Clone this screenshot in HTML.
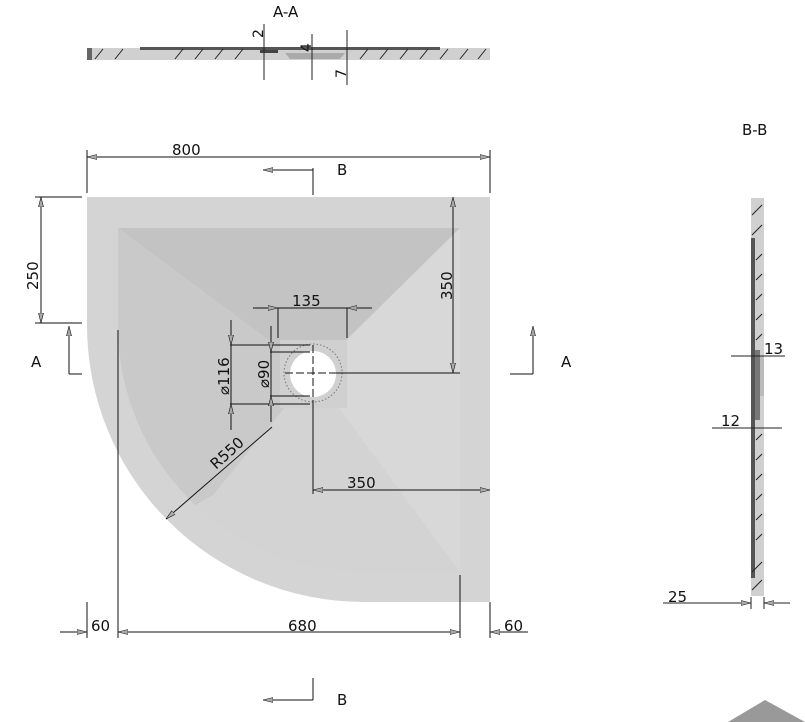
<!DOCTYPE html>
<html><head><meta charset="utf-8"><style>
html,body{margin:0;padding:0;background:#fff;}
svg{display:block;font-family:"DejaVu Sans","Liberation Sans",sans-serif;}
</style></head><body>
<svg width="805" height="722" viewBox="0 0 805 722" xmlns="http://www.w3.org/2000/svg">
<defs>
<marker id="ar" viewBox="0 0 10 6" refX="10" refY="3" markerWidth="10" markerHeight="6" orient="auto-start-reverse" markerUnits="userSpaceOnUse"><path d="M0,0.5 L10,3 L0,5.5 Z" fill="#aaa" stroke="#111" stroke-width="0.6"/></marker>
<clipPath id="inner"><path d="M118,228 H460 V572 H364 A246,246 0 0 1 118,326 Z"/></clipPath>
</defs>
<g font-size="15" fill="#111">
<text x="273" y="17">A-A</text>
<rect x="87" y="48" width="403" height="12" fill="#d0d0d0"/>
<rect x="87" y="48" width="5" height="12" fill="#666"/>
<rect x="140" y="47" width="300" height="3" fill="#555"/>
<rect x="260" y="50" width="18" height="3" fill="#444"/>
<path d="M285,53 H345 L340,59 H290 Z" fill="#aaa"/>
<g stroke="#222" stroke-width="1">
<path d="M95,59 l8,-10 M115,59 l8,-10 M175,59 l8,-10 M195,59 l8,-10 M215,59 l8,-10 M235,59 l8,-10 M360,59 l8,-10 M380,59 l8,-10 M400,59 l8,-10 M420,59 l8,-10 M440,59 l8,-10 M460,59 l8,-10 M478,59 l8,-10"/>
<line x1="264" y1="24" x2="264" y2="80"/><line x1="312" y1="34" x2="312" y2="80"/><line x1="347" y1="30" x2="347" y2="85"/>
</g>
<text transform="translate(263,38) rotate(-90)" font-size="14">2</text>
<text transform="translate(311,52) rotate(-90)" font-size="14">4</text>
<text transform="translate(346,78) rotate(-90)" font-size="14">7</text>

<path d="M87,197 H490 V602 H364 A277,277 0 0 1 87,323 Z" fill="#d4d4d4"/>
<g clip-path="url(#inner)">
<rect x="100" y="220" width="380" height="380" fill="#d3d3d3"/>
<path d="M118,228 L460,228 L313,373 Z" fill="#c3c3c3"/>
<path d="M118,228 L313,373 L213,495 L100,560 L100,228 Z" fill="#c9c9c9"/>
<path d="M460,228 L460,572 L313,373 Z" fill="#d8d8d8"/>
</g>
<rect x="280" y="340" width="67" height="68" fill="#d0d0d0"/>
<circle cx="313" cy="373" r="29" fill="none" stroke="#777" stroke-dasharray="1.5,2"/>
<circle cx="313" cy="374" r="23" fill="#fff"/>

<g stroke="#111" stroke-width="1" fill="none">
<line x1="87" y1="150" x2="87" y2="193"/><line x1="490" y1="150" x2="490" y2="193"/>
<line x1="87" y1="157" x2="490" y2="157" marker-start="url(#ar)" marker-end="url(#ar)"/>
<line x1="313" y1="168" x2="313" y2="195"/><line x1="263" y1="170" x2="313" y2="170" marker-start="url(#ar)"/>
<line x1="313" y1="678" x2="313" y2="700"/><line x1="263" y1="700" x2="313" y2="700" marker-start="url(#ar)"/>
<line x1="69" y1="374" x2="82" y2="374"/><line x1="69" y1="374" x2="69" y2="326" marker-end="url(#ar)"/>
<line x1="510" y1="374" x2="533" y2="374"/><line x1="533" y1="374" x2="533" y2="326" marker-end="url(#ar)"/>
<line x1="35" y1="197" x2="82" y2="197"/><line x1="35" y1="323" x2="82" y2="323"/>
<line x1="41" y1="197" x2="41" y2="323" marker-start="url(#ar)" marker-end="url(#ar)"/>
<line x1="453" y1="197" x2="453" y2="373" marker-start="url(#ar)" marker-end="url(#ar)"/>
<line x1="335" y1="373" x2="460" y2="373"/>
<line x1="278" y1="308" x2="278" y2="338"/><line x1="347" y1="308" x2="347" y2="338"/>
<line x1="253" y1="308" x2="278" y2="308" marker-end="url(#ar)"/><line x1="278" y1="308" x2="347" y2="308"/><line x1="372" y1="308" x2="347" y2="308" marker-end="url(#ar)"/>
<line x1="230" y1="345" x2="310" y2="345"/><line x1="230" y1="404" x2="310" y2="404"/>
<line x1="270" y1="352" x2="310" y2="352"/><line x1="270" y1="396" x2="310" y2="396"/>
<line x1="231" y1="320" x2="231" y2="345" marker-end="url(#ar)"/><line x1="231" y1="345" x2="231" y2="404"/><line x1="231" y1="430" x2="231" y2="404" marker-end="url(#ar)"/>
<line x1="271" y1="326" x2="271" y2="352" marker-end="url(#ar)"/><line x1="271" y1="352" x2="271" y2="396"/><line x1="271" y1="422" x2="271" y2="396" marker-end="url(#ar)"/>
<line x1="313" y1="345" x2="313" y2="400" stroke-dasharray="8,3"/>
<line x1="313" y1="400" x2="313" y2="494"/>
<line x1="285" y1="373" x2="335" y2="373" stroke-dasharray="8,3"/>
<line x1="313" y1="490" x2="490" y2="490" marker-start="url(#ar)" marker-end="url(#ar)"/>
<line x1="272" y1="427" x2="166" y2="519" marker-end="url(#ar)"/>
<line x1="87" y1="602" x2="87" y2="638"/><line x1="118" y1="330" x2="118" y2="638"/>
<line x1="460" y1="575" x2="460" y2="638"/><line x1="490" y1="602" x2="490" y2="638"/>
<line x1="60" y1="632" x2="87" y2="632" marker-end="url(#ar)"/>
<line x1="118" y1="632" x2="460" y2="632" marker-start="url(#ar)" marker-end="url(#ar)"/>
<line x1="528" y1="632" x2="490" y2="632" marker-end="url(#ar)"/>
</g>
<text x="172" y="155">800</text>
<text x="337" y="175">B</text>
<text x="337" y="705">B</text>
<text x="31" y="367">A</text>
<text x="561" y="367">A</text>
<text transform="translate(38,290) rotate(-90)">250</text>
<text transform="translate(452,300) rotate(-90)">350</text>
<text x="292" y="306">135</text>
<text transform="translate(229,395) rotate(-90)">⌀116</text>
<text transform="translate(269,388) rotate(-90)">⌀90</text>
<text x="347" y="488">350</text>
<text transform="translate(216,470) rotate(-42)">R550</text>
<text x="91" y="631">60</text>
<text x="288" y="631">680</text>
<text x="504" y="631">60</text>

<text x="742" y="135">B-B</text>
<rect x="751" y="198" width="13" height="398" fill="#d0d0d0"/>
<rect x="751" y="238" width="4" height="340" fill="#555"/>
<rect x="755" y="350" width="5" height="70" fill="#777"/>
<rect x="760" y="356" width="4" height="40" fill="#bbb"/>
<g stroke="#222" stroke-width="1">
<path d="M752,215 l10,-10 M752,235 l10,-10 M756,260 l6,-6 M756,280 l6,-6 M756,300 l6,-6 M756,320 l6,-6 M756,340 l6,-6 M756,440 l6,-6 M756,460 l6,-6 M756,480 l6,-6 M756,500 l6,-6 M756,520 l6,-6 M756,540 l6,-6 M752,590 l10,-10 M752,572 l10,-10"/>
<line x1="731" y1="356" x2="785" y2="356"/>
<line x1="712" y1="428" x2="782" y2="428"/>
<line x1="663" y1="603" x2="751" y2="603" marker-end="url(#ar)"/><line x1="790" y1="603" x2="764" y2="603" marker-end="url(#ar)"/>
<line x1="751" y1="597" x2="751" y2="609"/><line x1="764" y1="597" x2="764" y2="609"/>
</g>
<text x="764" y="354">13</text>
<text x="721" y="426">12</text>
<text x="668" y="602">25</text>
<path d="M728,722 L765,700 L805,722 Z" fill="#999"/>
</g>
</svg>
</body></html>
